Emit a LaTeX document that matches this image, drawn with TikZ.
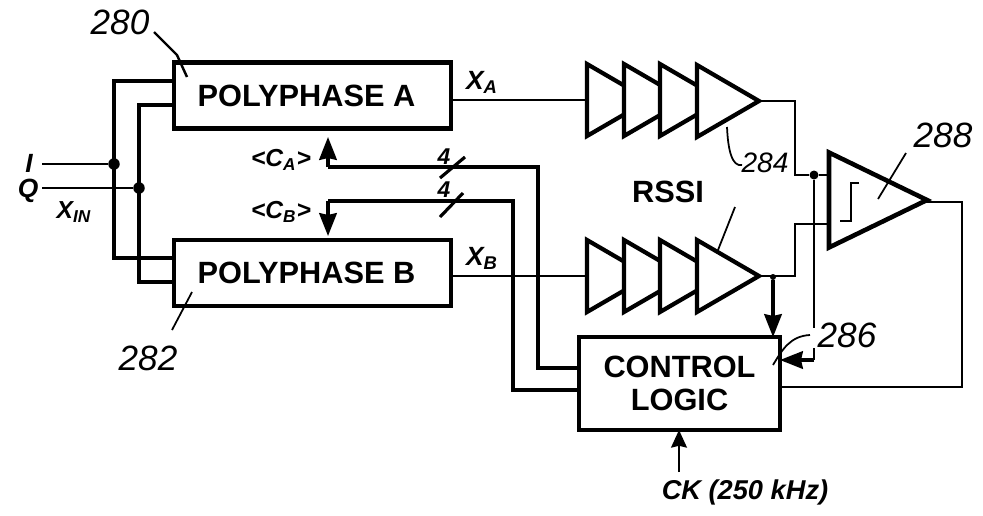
\documentclass[tikz,border=0pt]{standalone}
\usepackage{fontspec}
\setmainfont{Liberation Sans}
\usetikzlibrary{arrows.meta,shapes.geometric}

\begin{document}
\begin{tikzpicture}[x=0.02cm, y=-0.02cm, >=Stealth,
    wire/.style={line width=1.1pt},
    bus/.style={line width=1.8pt},
    lead/.style={line width=1pt},
    arr/.style={line width=1.8pt, -{Stealth[length=13pt, width=10pt, inset=1pt]}},
    blockbox/.style={draw, line width=2.6pt, outer sep=0pt, inner sep=0pt, font=\fontsize{17.5}{19}\selectfont\bfseries, align=center},
    amp/.style={isosceles triangle, isosceles triangle stretches, draw, fill=white, line width=2.4pt, inner sep=0pt, outer sep=0pt, anchor=lower side},
    sml/.style={minimum height=1.24cm, minimum width=1.44cm},
    jdot/.style={circle, fill=black, inner sep=0pt, minimum size=0.23cm},
    lab/.style={font=\fontsize{15}{17}\selectfont\bfseries\itshape, inner sep=0pt},
    hand/.style={font=\fontsize{20}{22}\selectfont\itshape, inner sep=1pt}]
  \useasboundingbox (0,0) rectangle (983,515);
  % ---- polyphase blocks
  \node[blockbox, minimum width=5.54cm, minimum height=1.32cm] (polyA) at (312.5,95.5) {POLYPHASE A\hspace{0.24cm}};
  \node[blockbox, minimum width=5.54cm, minimum height=1.32cm] (polyB) at (312.5,273) {POLYPHASE B\hspace{0.24cm}};
  \node[blockbox, line width=2.2pt, minimum width=4.02cm, minimum height=1.86cm] (ctrl) at (679.5,383.5) {CONTROL\\LOGIC};
  % ---- inputs
  \node[lab] (inI) at (29,163) {I};
  \node[lab] (inQ) at (28,191) {Q};
  \node[lab, font=\fontsize{14}{16}\selectfont\bfseries\itshape] (xin) at (74,212) {X\textsubscript{IN}};
  \node[jdot] (dotI) at (114,164) {};
  \node[jdot] (dotQ) at (139,188) {};
  \coordinate (startI) at (42,164); \coordinate (startQ) at (42,188);
  \coordinate (portA1) at (172,81); \coordinate (portA2) at (172,105);
  \coordinate (portB1) at (172,258); \coordinate (portB2) at (172,282);
  \draw[wire] (startI) -- (dotI);
  \draw[wire] (startQ) -- (dotQ);
  \draw[bus] (portA1) -| (dotI.center) |- (portB1);
  \draw[bus] (portA2) -| (dotQ.center) |- (portB2);
  % ---- amplifier chains
  \node[amp, sml] (ampA1) at (587,100) {};
  \node[amp, sml] (ampA2) at (624,100) {};
  \node[amp, sml] (ampA3) at (660,100) {};
  \node[amp, sml] (ampA4) at (697,101) {};
  \node[amp, sml] (ampB1) at (587,276) {};
  \node[amp, sml] (ampB2) at (624,276) {};
  \node[amp, sml] (ampB3) at (660,276) {};
  \node[amp, sml] (ampB4) at (697,276) {};
  \node[lab] (xa) at (482,82) {X\textsubscript{A}};
  \node[lab] (xb) at (482,258) {X\textsubscript{B}};
  \draw[wire] (polyA.east |- ampA1.lower side) -- (ampA1.lower side);
  \draw[wire] (polyB.east |- ampB1.lower side) -- (ampB1.lower side);
  \node[font=\fontsize{17.5}{19}\selectfont\bfseries, inner sep=1pt] (rssi) at (668,192) {RSSI};
  % ---- integrator
  \node[amp, line width=2.6pt, minimum height=1.96cm, minimum width=1.9cm] (integ) at (829,200) {};
  \draw[line width=1.4pt] (859,183) -- (851,183) -- (851,221) -- (840,221);
  \node[jdot, minimum size=0.18cm] (dotR) at (814,175) {};
  \node[jdot, minimum size=0.12cm] (dotS) at (773,277) {};
  \coordinate (jogR) at (795,175); \coordinate (jogS) at (795,224);
  \draw[wire] (ampA4.apex) -| (jogR) -- (dotR) -- (integ.lower side |- dotR);
  \draw[wire] (ampB4.apex) -| (jogS) -- (integ.lower side |- jogS);
  % ---- control signals
  \coordinate (capA) at (328,137); \coordinate (capB) at (328,236);
  \coordinate (turnA) at (328,167); \coordinate (turnB) at (328,201);
  \coordinate (portC1) at (577,368); \coordinate (portC2) at (577,390);
  \coordinate (riseA) at (538,167); \coordinate (riseB) at (513,201);
  \draw[arr] (turnA) -- (capA);
  \draw[arr] (turnB) -- (capB);
  \draw[bus] (turnA) -- (riseA) |- (portC1);
  \draw[bus] (turnB) -- (riseB) |- (portC2);
  \node[lab, font=\fontsize{14}{16}\selectfont\bfseries\itshape] (ca) at (281,160) {<C\textsubscript{A}>};
  \node[lab, font=\fontsize{14}{16}\selectfont\bfseries\itshape] (cb) at (281,212) {<C\textsubscript{B}>};
  \node[hand, font=\fontsize{13}{15}\selectfont\itshape\bfseries] (nA) at (444,157) {4};
  \node[hand, font=\fontsize{13}{15}\selectfont\itshape\bfseries] (nB) at (444,190) {4};
  \coordinate (slA1) at (440,178); \coordinate (slA2) at (465,157);
  \coordinate (slB1) at (440,217); \coordinate (slB2) at (463,193);
  \draw[bus] (slA1) -- (slA2);
  \draw[bus] (slB1) -- (slB2);
  % ---- feedback into control logic
  \coordinate (fbIn) at (ctrl.east |- 0,360);
  \coordinate (fbUp) at (814,328); \coordinate (fbLo) at (814,348); \coordinate (fbEnd) at (814,360);
  \coordinate (outB) at (962,202); \coordinate (outC) at (962,387);
  \draw[line width=1.6pt] (dotR) -- (fbUp);
  \draw[line width=1.6pt] (fbLo) -- (fbEnd);
  \draw[arr] (fbEnd) -- (fbIn);
  \draw[arr] (dotS) -- (ctrl.north -| dotS);
  \draw[wire] (integ.apex) |- (outB) -- (outC) -- (ctrl.east |- outC);
  % ---- clock
  \node[lab, font=\fontsize{15.5}{17}\selectfont\bfseries\itshape] (ck) at (745,492) {CK (250 kHz)};
  \coordinate (ckIn) at (679,472);
  \draw[line width=1.2pt, -{Stealth[length=10pt, width=9pt, inset=1pt]}] (ckIn) -- (ctrl.south -| ckIn);
  % ---- reference numerals
  \node[hand] (n280) at (120,22) {280};
  \node[hand] (n282) at (148,358) {282};
  \node[hand, font=\fontsize{16}{18}\selectfont\itshape] (n284) at (765,163) {284};
  \node[hand] (n286) at (847,335) {286};
  \node[hand] (n288) at (943,135) {288};
  \coordinate (ld0a) at (154,32); \coordinate (ld0b) at (177,55); \coordinate (ld0c) at (187,77);
  \coordinate (ld2a) at (172,330); \coordinate (ld2b) at (192,292);
  \coordinate (ld4a) at (727,127); \coordinate (ld4b) at (742,165);
  \coordinate (ldRa) at (735,207); \coordinate (ldRb) at (718,250);
  \coordinate (ld8a) at (906,153); \coordinate (ld8b) at (878,199);
  \coordinate (ld6a) at (810,335); \coordinate (ld6b) at (773,365);
  \draw[lead, line width=1.4pt] (ld0a) -- (ld0b) -- (ld0c);
  \draw[lead] (ld2a) -- (ld2b);
  \draw[lead] (ld4a) .. controls (728,150) and (732,167) .. (ld4b);
  \draw[lead] (ldRa) -- (ldRb);
  \draw[lead] (ld8a) -- (ld8b);
  \draw[lead] (ld6a) .. controls (790,336) and (782,350) .. (ld6b);
\end{tikzpicture}
\end{document}
